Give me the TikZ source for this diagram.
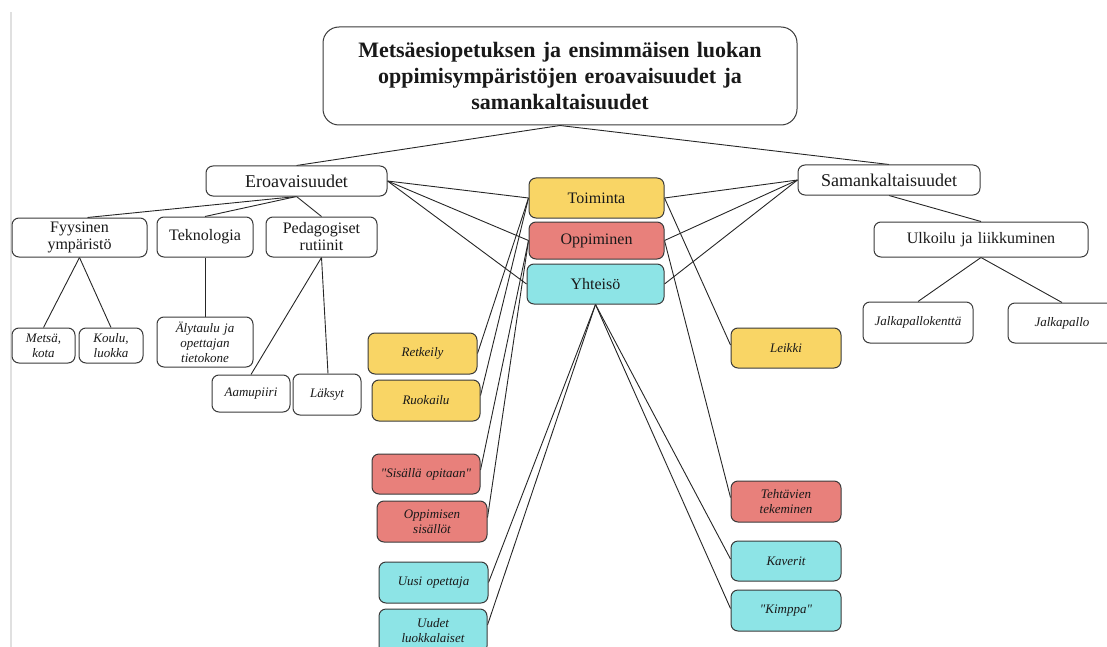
\documentclass[tikz,border=0pt]{standalone}
\usepackage{fontspec}
\setmainfont{Liberation Serif}[Ligatures=TeXOff]
\usetikzlibrary{calc,backgrounds}
\definecolor{boxline}{HTML}{3A3A3A}
\definecolor{yel}{HTML}{F9D565}
\definecolor{redb}{HTML}{E8807B}
\definecolor{cyb}{HTML}{8DE4E6}
\tikzset{
  x=1pt, y=-1pt,
  base/.style={draw=boxline, line width=1pt, rounded corners=7pt, fill=white,
    align=center, inner sep=2pt, text=black!90},
  titlebox/.style={base, rounded corners=16pt, font=\fontsize{22}{26}\selectfont\bfseries},
  headbox/.style={base, font=\fontsize{18}{19}\selectfont},
  midbox/.style={base, font=\fontsize{16}{17}\selectfont},
  catbox/.style={base, font=\fontsize{16}{17}\selectfont},
  leaf/.style={base, font=\fontsize{13}{15}\selectfont\itshape},
  link/.style={draw=black!85, line width=0.9pt},
}
\newcommand{\bx}[6]{\node[#1, minimum width=#4pt, minimum height=#5pt, text width=#4pt-6pt] (#2) at (#3) {#6};}
\begin{document}
\begin{tikzpicture}
\path[use as bounding box] (0,0) rectangle (1107,647);
\draw[black!12, line width=2pt] (11,12) -- (11,647);

% title and the two main branches
\bx{titlebox}{title}{560,76}{474}{98}{Metsäesiopetuksen ja ensimmäisen luokan\\oppimisympäristöjen eroavaisuudet ja\\samankaltaisuudet}
\bx{headbox}{ero}{296.5,181}{181}{30}{Eroavaisuudet}
\bx{headbox}{sam}{889,180}{182}{30}{Samankaltaisuudet}

% differences
\bx{midbox}{fyy}{79.5,237.5}{135}{39}{Fyysinen\\ympäristö}
\bx{midbox}{tek}{205,237}{96}{40}{Teknologia}
\bx{midbox}{ped}{321.5,237}{111}{40}{Pedagogiset\\rutiinit}
\bx{leaf}{metsa}{43.5,345.5}{63}{35}{Metsä,\\kota}
\bx{leaf}{koulu}{111,345.5}{64}{35}{Koulu,\\luokka}
\bx{leaf}{aly}{205,342}{96}{50}{Älytaulu ja\\opettajan\\tietokone}
\bx{leaf}{aamu}{251,393.5}{78}{37}{Aamupiiri}
\bx{leaf}{laksyt}{327,394.5}{68}{41}{Läksyt}

% shared categories
\bx{catbox, fill=yel}{toim}{596.5,198}{135}{40}{Toiminta}
\bx{catbox, fill=redb}{opp}{596.5,240.5}{135}{37}{Oppiminen}
\bx{catbox, fill=cyb}{yht}{595.5,284}{137}{40}{Yhteisö}

% similarities
\bx{midbox}{ulk}{981,239.5}{214}{35}{Ulkoilu ja liikkuminen}
\bx{leaf}{jkk}{918,322.5}{110}{41}{Jalkapallokenttä}
\bx{leaf}{jp}{1062,323}{108}{40}{Jalkapallo}

% category leaves, left column
\bx{leaf, fill=yel}{retk}{422.5,353.5}{109}{41}{Retkeily}
\bx{leaf, fill=yel}{ruok}{426,400.5}{108}{41}{Ruokailu}
\bx{leaf, fill=redb}{sis}{426,474}{108}{40}{"Sisällä opitaan"}
\bx{leaf, fill=redb}{opps}{432,521.5}{110}{41}{Oppimisen\\sisällöt}
\bx{leaf, fill=cyb}{uusi}{433.5,582.5}{109}{41}{Uusi opettaja}
\bx{leaf, fill=cyb}{uud}{433,631}{108}{44}{Uudet\\luokkalaiset}

% category leaves, right column
\bx{leaf, fill=yel}{leikki}{786,348}{110}{40}{Leikki}
\bx{leaf, fill=redb}{teht}{786,501.5}{110}{41}{Tehtävien\\tekeminen}
\bx{leaf, fill=cyb}{kav}{786,561}{110}{40}{Kaverit}
\bx{leaf, fill=cyb}{kimp}{786,610.5}{110}{41}{"Kimppa"}

\begin{scope}[on background layer]
\draw[link] (title.south) -- (ero.north);
\draw[link] (title.south) -- (sam.north);
\draw[link] (ero.south) -- ($(fyy.north)+(8,0)$);
\draw[link] (ero.south) -- (tek.north);
\draw[link] (ero.south) -- (ped.north);
\draw[link] (fyy.south) -- (metsa.north);
\draw[link] (fyy.south) -- (koulu.north);
\draw[link] (tek.south) -- (aly.north);
\draw[link] (ped.south) -- (aamu.north);
\draw[link] (ped.south) -- ($(laksyt.north)+(1,0)$);
\draw[link] (ero.east) -- (toim.west);
\draw[link] (ero.east) -- (opp.west);
\draw[link] (ero.east) -- (yht.west);
\draw[link] (sam.west) -- (toim.east);
\draw[link] (sam.west) -- (opp.east);
\draw[link] (sam.west) -- (yht.east);
\draw[link] (sam.south) -- (ulk.north);
\draw[link] (ulk.south) -- (jkk.north);
\draw[link] (ulk.south) -- (jp.north);
\draw[link] (toim.west) -- (retk.east);
\draw[link] (toim.west) -- ($(ruok.east)+(0,-5)$);
\draw[link] (opp.west) -- ($(sis.east)+(0,-4)$);
\draw[link] (opp.west) -- ($(opps.east)+(0,-4)$);
\draw[link] (yht.south) -- (uusi.east);
\draw[link] (yht.south) -- ($(uud.east)+(0,-6)$);
\draw[link] (toim.east) -- ($(leikki.west)+(0,-3)$);
\draw[link] (opp.east) -- ($(teht.west)+(0,-4)$);
\draw[link] (yht.south) -- ($(kav.west)+(0,-2)$);
\draw[link] (yht.south) -- ($(kimp.west)+(0,-2)$);
\end{scope}
\end{tikzpicture}
\end{document}
